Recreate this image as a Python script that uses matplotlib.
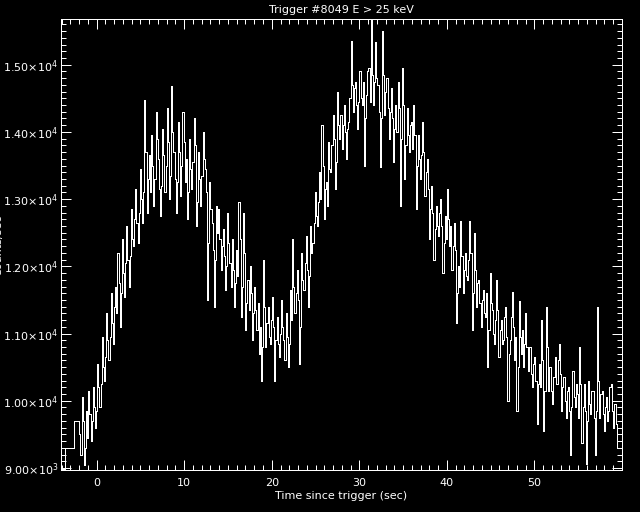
import numpy as np
import matplotlib.pyplot as plt

# coarse bins before the fine data (bin edges in s, counts/s)
pre_edges = [-4.07, -3.58, -2.55, -1.98]
pre_counts = [8990, 9300, 9700]

# 0.128 s bins starting at t0
t0 = -1.98
dt = 0.128
counts = [
    9500, 9200, 10050, 9700, 9050, 9300, 9850, 9450, 10150, 9800, 9400, 9700, 10200, 9900, 9600, 9850,
    10550, 10200, 9900, 10250, 10950, 10500, 10300, 10650, 11300, 10900, 10600, 10950, 11600, 11150, 10850, 11400,
    11700, 11300, 12200, 11750, 11100, 11600, 12400, 11900, 11550, 12050, 12600, 12100, 11700, 12150, 12850, 12400,
    12300, 12700, 13150, 12650, 12350, 12800, 13450, 13000, 12650, 13100, 14480, 13700, 12800, 13300, 13650, 13100,
    13950, 13500, 12900, 13300, 14300, 13900, 13600, 13150, 12750, 13200, 14050, 13650, 13100, 13500, 14350, 13850,
    13000, 13350, 14690, 14000, 13700, 13300, 12800, 13250, 14150, 13700, 13050, 13500, 14300, 13850, 13250, 13600,
    12700, 13100, 13900, 13450, 13150, 13550, 14200, 13800, 12600, 12950, 13700, 13300, 12900, 13350, 14000, 13600,
    13450, 13100, 11500, 12350, 13250, 12850, 12650, 12250, 11400, 12100, 12900, 12500, 12850, 12400, 11950, 12300,
    12550, 12150, 11650, 12000, 12800, 12350, 12050, 11700, 12400, 11950, 11400, 11750, 12250, 11850, 12950, 12400,
    11250, 11700, 12800, 12200, 11050, 11450, 11800, 11350, 12000, 11600, 10900, 11300, 11700, 11350, 11050, 11450,
    10700, 11100, 10300, 10800, 12100, 11400, 10800, 11150, 11400, 10950, 10850, 11200, 11550, 11100, 10300, 10900,
    11250, 10850, 10650, 11000, 11500, 11100, 10900, 10600, 11300, 10950, 10500, 10850, 11650, 11200, 12400, 11700,
    11300, 11600, 11950, 11500, 10550, 11100, 12200, 11800, 11650, 12050, 12450, 11950, 11400, 11850, 12600, 12200,
    12350, 12650, 13100, 12750, 12600, 12950, 13400, 13000, 14100, 13500, 12700, 13150, 13250, 12900, 13850, 13450,
    13400, 13800, 14250, 13900, 13150, 13550, 14600, 14100, 13900, 14250, 13750, 14100, 14400, 14000, 13600, 14050,
    14150, 14500, 15350, 14700, 14300, 14650, 14750, 14400, 14050, 14450, 14900, 14500, 14400, 14750, 13500, 14200,
    14550, 14900, 14950, 14450, 15680, 14850, 14400, 14750, 15340, 14800, 14700, 14300, 13480, 14200, 15500, 14850,
    14250, 14600, 14800, 14350, 13900, 14300, 14650, 14200, 13550, 14050, 14400, 14000, 14750, 14350, 12900, 13900,
    14950, 14400, 13300, 13800, 14350, 13950, 13700, 14100, 14150, 13750, 14400, 13950, 12850, 13500, 13950, 13600,
    13300, 13650, 14150, 13700, 13050, 13400, 13600, 13150, 12400, 12850, 13200, 12800, 12100, 12550, 12900, 12600,
    12450, 12800, 13000, 12600, 11900, 12350, 12750, 12400, 13150, 12700, 12300, 12600, 11950, 12300, 12650, 12250,
    11150, 11600, 12000, 11700, 12680, 12150, 11600, 11950, 12200, 11850, 11800, 12100, 12680, 12200, 11050, 11600,
    12500, 11950, 11400, 11750, 11800, 11450, 11100, 11500, 11650, 11300, 11250, 11600, 10500, 11050, 11900, 11450,
    11350, 11000, 10850, 11200, 11800, 11350, 10650, 11050, 11200, 10850, 10900, 11250, 11400, 10950, 10000, 10700,
    10900, 11250, 11620, 11100, 10600, 10950, 9850, 10500, 11480, 10950, 10700, 11050, 10500, 10850, 11300, 10800,
    10450, 10800, 10800, 10400, 10200, 10550, 10650, 10300, 9650, 10250, 10550, 10200, 11200, 10600, 9550, 10150,
    11400, 10800, 10150, 10500, 10500, 10150, 9950, 10350, 10650, 10250, 10250, 10600, 10850, 10400, 9850, 10200,
    10350, 10000, 9750, 10150, 10200, 9850, 9200, 9900, 10450, 10050, 9900, 10250, 10100, 9750, 10800, 10250,
    9370, 9900, 10250, 9850, 9060, 9700, 10300, 9950, 9800, 10150, 10150, 9750, 9200, 9850, 11390, 10300,
    9750, 10100, 10150, 9800, 9550, 9900, 10050, 9700, 9850, 10200, 10250, 9850, 9600, 9950, 9950, 9650,
]

# trailing coarse bin
post_end = 60.0
post_counts = [9300]

xlim = (-4.07, 60.0)
ylim = (8970, 15680)
yticks = [9000, 10000, 11000, 12000, 13000, 14000, 15000]
ytick_labels = [r'$9.00{\times}10^{3}$', r'$1.00{\times}10^{4}$', r'$1.10{\times}10^{4}$',
                r'$1.20{\times}10^{4}$', r'$1.30{\times}10^{4}$', r'$1.40{\times}10^{4}$',
                r'$1.50{\times}10^{4}$']
xticks = [0, 10, 20, 30, 40, 50]

fine_edges = t0 + dt * np.arange(len(counts) + 1)
edges = np.concatenate([pre_edges, fine_edges[1:], [post_end]])
values = np.concatenate([pre_counts, counts, post_counts])

plt.rcParams['font.family'] = ['DejaVu Sans']
plt.rcParams['mathtext.fontset'] = 'dejavusans'

fig = plt.figure(figsize=(6.4, 5.12), dpi=100, facecolor='black')
ax = fig.add_axes([61 / 640, 1 - 470 / 512, (622 - 61) / 640, (470 - 19) / 512])
ax.set_facecolor('black')

ax.stairs(values, edges, baseline=None, color='white', linewidth=0.6, antialiased=False)

ax.set_xlim(*xlim)
ax.set_ylim(*ylim)
ax.set_xticks(xticks)
ax.set_xticks(np.arange(-4, 61, 1), minor=True)
ax.set_yticks(yticks)
ax.set_yticklabels(ytick_labels)
ax.set_yticks(np.arange(9000, 15700, 100), minor=True)

for s in ax.spines.values():
    s.set_color('white')
    s.set_linewidth(0.72)

ax.tick_params(which='both', direction='in', colors='white', top=True, right=True,
               labelsize=8, width=0.72)
ax.tick_params(which='major', length=7.2)
ax.tick_params(which='minor', length=3.6)
ax.tick_params(axis='x', pad=6)
ax.tick_params(axis='y', pad=2)

ax.set_title('Trigger #8049 E > 25 keV', color='white', fontsize=8, pad=4)
ax.set_xlabel('Time since trigger (sec)', color='white', fontsize=8, labelpad=2)
# y label sits mostly outside the left edge, as in the original
fig.text(3 / 640, 0.52, 'Counts/sec', rotation=90, color='white', fontsize=8,
         ha='right', va='center')

fig.savefig('out.png', dpi=100, facecolor='black')
